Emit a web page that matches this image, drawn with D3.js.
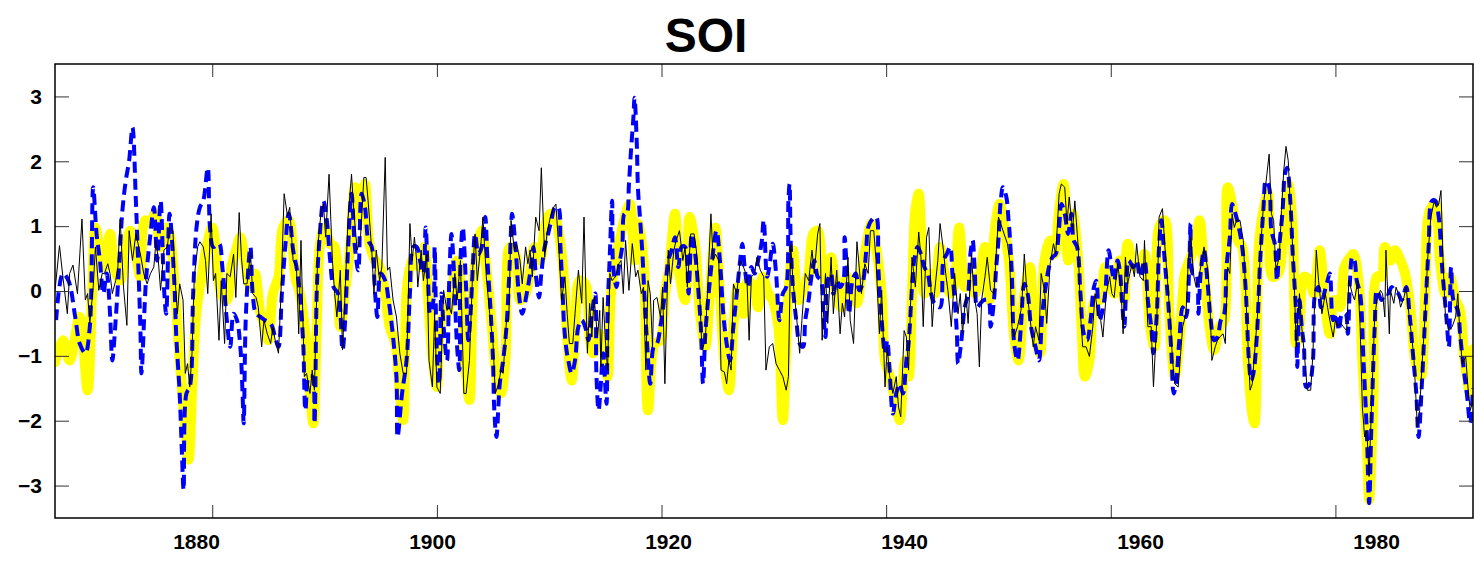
<!DOCTYPE html>
<html>
<head>
<meta charset="utf-8">
<script src="https://cdnjs.cloudflare.com/ajax/libs/d3/7.8.5/d3.min.js"></script>
<style>
  body { margin: 0; background: #fff; }
  svg text { font-family: "Liberation Sans", Arial, sans-serif; font-weight: bold; fill: #000; }
</style>
</head>
<body>
<div id="vis"></div>
<script>
'use strict';

// ---- data (year, SOI value) ----
var title = 'SOI';
var xTicks = [1880, 1900, 1920, 1940, 1960, 1980];
var yTicks = [-3, -2, -1, 0, 1, 2, 3];

// thick yellow series
var yellowSeries = [
  [1866.0,-1.1],[1866.7,-0.76],[1867.3,-1.07],[1868.2,-0.4],[1868.9,-1.53],[1869.3,-0.04],[1869.6,0.98],[1870.0,0.63],[1870.4,0.37],[1870.9,0.88],[1871.3,0.37],[1871.8,0.16],[1872.2,0.57],[1872.7,0.93],[1873.1,0.68],[1873.6,0.22],[1874.0,1.09],[1874.5,1.04],[1874.9,1.19],[1875.4,0.68],[1875.9,0.98],
  [1876.2,0.88],[1876.7,-0.04],[1877.1,-1.07],[1877.6,-2.1],[1877.9,-2.6],[1878.2,-1.58],[1878.6,-0.3],[1879.1,0.27],[1879.5,0.68],[1880.0,0.98],[1880.4,0.47],[1880.8,-0.04],[1881.3,-0.14],[1881.7,0.37],[1882.2,0.68],[1882.5,0.83],[1882.9,0.47],[1883.4,0.06],[1883.8,0.27],[1884.3,-0.35],[1884.7,-0.55],[1885.0,-0.76],[1885.4,-0.04],[1885.9,0.22],[1886.3,0.98],[1886.8,1.09],
  [1887.4,0.22],[1887.8,-0.04],[1888.3,-0.66],[1888.7,-1.58],[1889.0,-2.04],[1889.3,-0.55],[1889.6,0.73],[1890.0,0.98],[1890.5,0.73],[1890.9,0.68],[1891.4,-0.55],[1891.8,-0.04],[1892.3,0.73],[1892.7,1.6],[1893.2,1.14],[1893.6,1.65],[1894.0,0.73],[1894.5,0.47],[1894.9,0.37],[1895.4,-0.04],[1895.8,-0.55],[1896.3,-0.81],[1896.7,-1.58],[1897.0,-1.99],[1897.3,-0.04],[1897.6,0.35],
  [1898.0,0.52],[1898.5,0.37],[1898.9,0.68],[1899.2,-0.04],[1899.5,-0.81],[1900.0,-1.48],[1900.4,-0.45],[1900.9,-0.35],[1901.3,-0.04],[1901.8,0.47],[1902.2,-0.04],[1902.5,-1.07],[1902.9,-1.68],[1903.2,-0.04],[1903.5,0.57],[1904.0,0.93],[1904.4,0.37],[1904.9,-0.55],[1905.3,-1.32],[1905.7,-1.58],[1906.1,-1.07],[1906.5,0.68],[1907.0,0.57],[1907.4,-0.14],[1907.9,-0.04],[1908.3,0.3],
  [1908.7,0.68],[1909.2,0.47],[1909.6,0.98],[1910.1,1.19],[1910.5,1.14],[1911.0,0.73],[1911.3,0.22],[1911.6,-0.71],[1912.0,-1.38],[1912.3,-0.71],[1912.7,0.16],[1913.2,0.11],[1913.6,-0.71],[1913.9,-0.96],[1914.4,-0.66],[1914.8,-0.81],[1915.2,-1.32],[1915.5,-0.04],[1916.0,0.57],[1916.4,0.88],[1916.9,1.24],[1917.2,1.34],[1917.6,0.47],[1917.9,1.04],[1918.4,0.47],[1918.8,-1.84],
  [1919.4,-0.81],[1919.9,-0.76],[1920.3,-0.04],[1920.7,0.37],[1921.2,1.19],[1921.6,0.27],[1922.1,-0.14],[1922.5,1.14],[1923.0,0.68],[1923.4,-0.3],[1923.9,-0.86],[1924.3,-0.04],[1924.8,0.98],[1925.2,-0.04],[1925.6,-1.07],[1926.0,-1.53],[1926.4,-0.55],[1926.8,0.06],[1927.3,-0.35],[1927.7,0.16],[1928.2,0.06],[1928.6,-0.25],[1929.0,0.22],[1929.5,-0.04],
  [1929.9,-0.14],[1930.4,-0.55],[1930.8,-1.99],[1931.3,-0.04],[1931.7,0.63],[1932.2,-0.14],[1932.6,0.01],[1933.1,0.27],[1933.5,0.88],[1933.9,0.93],[1934.4,0.27],[1934.8,0.16],[1935.1,0.52],[1935.6,-0.04],[1936.0,-0.25],[1936.5,0.22],[1936.9,0.06],[1937.4,-0.19],[1937.8,0.27],[1938.2,0.68],[1938.7,1.04],[1939.1,0.68],[1939.6,-0.04],[1939.9,-1.07],[1940.3,-1.3],
  [1940.8,-1.68],[1941.2,-1.99],[1941.7,-1.07],[1942.0,-1.32],[1942.3,-0.04],[1942.6,1.24],[1942.9,1.5],[1943.1,0.98],[1943.4,-0.04],[1943.9,0.27],[1944.3,-0.04],[1944.8,0.68],[1945.2,0.27],[1945.7,-0.04],[1946.1,0.16],[1946.5,0.98],[1947.0,0.06],[1947.4,0.27],[1947.9,-0.04],[1948.3,0.22],[1948.8,0.68],[1949.2,-0.14],[1949.7,0.98],[1950.1,1.34],[1950.6,0.88],[1951.0,0.35],
  [1951.4,-0.71],[1951.8,-1.07],[1952.3,-0.04],[1952.8,0.37],[1953.2,-0.55],[1953.7,-0.96],[1954.1,0.47],[1954.6,0.78],[1955.0,0.57],[1955.4,1.24],[1955.8,1.65],[1956.2,0.47],[1956.6,1.19],[1957.1,0.47],[1957.4,-0.55],[1957.7,-1.32],[1958.1,-1.07],[1958.6,-0.14],[1959.0,-0.14],[1959.5,0.37],[1959.9,0.16],[1960.3,-0.04],[1960.8,0.47],[1961.2,-0.14],[1961.5,0.73],
  [1962.1,0.37],[1962.6,0.37],[1963.0,0.57],[1963.5,-0.55],[1963.9,-0.86],[1964.3,0.98],[1964.8,1.09],[1965.2,-0.3],[1965.7,-1.32],[1966.1,-0.81],[1966.6,0.27],[1967.0,0.47],[1967.5,0.68],[1967.9,1.09],[1968.3,0.37],[1968.8,-0.55],[1969.2,-0.91],[1969.7,-0.55],[1970.1,-0.45],[1970.4,1.6],[1970.9,1.24],[1971.3,0.78],[1971.7,0.68],[1972.2,-1.07],
  [1972.6,-1.9],[1972.8,-2.04],[1973.2,0.73],[1973.7,1.34],[1974.0,1.5],[1974.4,0.22],[1974.9,0.27],[1975.3,0.68],[1975.8,1.65],[1976.2,0.98],[1976.5,-0.81],[1976.8,-0.55],[1977.2,0.22],[1977.7,0.16],[1978.1,-0.04],[1978.6,0.63],[1979.0,-0.04],[1979.5,-0.66],[1979.9,-0.14],[1980.4,-0.25],[1980.8,0.37],[1981.3,0.52],
  [1981.6,0.57],[1982.1,0.06],[1982.4,-1.07],[1982.8,-2.35],[1983.0,-3.22],[1983.4,-1.58],[1983.7,0.22],[1984.1,0.22],[1984.4,0.68],[1984.9,0.47],[1985.3,0.63],[1985.8,0.47],[1986.2,0.27],[1986.7,-0.3],[1987.1,-1.07],[1987.6,-1.32],[1988.0,-0.04],[1988.4,1.24],[1988.9,1.34],[1989.3,0.47],[1989.8,-0.04],[1990.2,0.22],[1990.7,-0.14],[1991.1,-0.3],[1991.5,-1.07],[1992.0,-1.58],[1992.25,-0.9]
];

// blue dashed series
var blueSeries = [
  [1866.1,-0.45],[1866.7,0.27],[1867.2,0.16],[1867.8,-0.4],[1868.2,-0.81],[1868.7,-0.96],[1869.1,-0.55],[1869.4,1.6],[1869.7,0.88],[1870.0,0.47],[1870.3,-0.04],[1870.6,0.27],[1870.9,-0.35],[1871.1,-1.07],[1871.4,-0.45],[1871.7,0.37],[1872.0,1.24],[1872.3,1.7],[1872.6,2.01],[1872.9,2.52],[1873.2,1.39],[1873.4,0.47],[1873.6,-0.55],[1873.7,-1.27],[1874.1,0.16],[1874.5,0.88],[1874.8,1.29],[1875.1,0.47],[1875.4,1.39],[1875.7,0.06],[1875.9,-0.35],
  [1876.2,1.19],[1876.6,0.22],[1876.8,-0.71],[1877.1,-1.58],[1877.3,-2.5],[1877.45,-3.07],[1877.7,-1.58],[1878.0,-1.48],[1878.3,-0.04],[1878.6,0.98],[1878.9,1.29],[1879.2,1.39],[1879.6,1.9],[1879.8,0.98],[1880.1,0.68],[1880.6,0.73],[1880.9,0.37],[1881.3,-0.45],[1881.6,-0.86],[1881.9,-0.35],[1882.2,-0.45],[1882.5,-0.86],[1882.7,-1.58],[1882.8,-2.04],[1883.0,-0.35],[1883.4,0.68],[1883.6,-0.04],[1883.9,-0.35],[1884.3,-0.4],[1884.7,-0.45],[1885.2,-0.5],[1885.6,-0.71],[1885.9,-0.86],[1886.2,-0.04],[1886.5,0.68],[1886.8,1.19],
  [1886.9,1.14],[1887.2,0.63],[1887.5,0.37],[1887.8,-0.04],[1888.1,-0.81],[1888.3,-1.84],[1888.6,-1.32],[1888.9,-1.32],[1889.1,-2.04],[1889.3,-0.04],[1889.5,0.68],[1889.9,1.39],[1890.2,1.09],[1890.5,0.47],[1890.8,0.06],[1891.2,-0.04],[1891.6,-0.91],[1891.8,-0.55],[1892.1,0.68],[1892.4,1.5],[1892.7,0.68],[1893.0,0.32],[1893.3,1.5],[1893.6,1.29],[1893.9,0.78],[1894.2,0.68],[1894.5,-0.04],[1894.7,-0.4],[1895.0,0.27],[1895.4,0.16],[1895.7,-0.14],[1896.0,-0.55],[1896.4,-1.32],[1896.5,-2.25],[1896.9,-1.58],[1897.3,-1.07],[1897.6,-0.04],
  [1897.9,0.68],[1898.2,0.68],[1898.5,0.47],[1898.8,0.27],[1899.0,0.98],[1899.2,0.22],[1899.4,-0.35],[1899.7,-0.14],[1899.8,0.68],[1900.0,-0.96],[1900.2,-1.43],[1900.4,-0.04],[1900.6,-0.55],[1900.9,-1.07],[1901.1,0.16],[1901.3,0.88],[1901.5,0.37],[1901.8,-0.86],[1902.0,-1.22],[1902.1,0.47],[1902.3,0.98],[1902.6,0.06],[1902.8,-0.76],[1903.0,-0.35],[1903.2,0.37],[1903.4,0.88],[1903.7,0.57],[1904.0,0.68],[1904.3,1.14],[1904.5,0.47],[1904.8,-0.35],[1905.0,-1.07],[1905.1,-1.79],[1905.3,-2.25],[1905.6,-1.43],[1905.9,-1.07],[1906.2,-0.55],[1906.5,0.47],[1906.7,1.19],[1907.0,0.68],[1907.3,-0.04],[1907.6,-0.35],[1908.0,-0.04],[1908.3,0.27],
  [1908.6,0.68],[1908.8,0.27],[1909.1,-0.1],[1909.3,0.27],[1909.6,0.68],[1909.9,0.88],[1910.2,1.09],[1910.5,1.29],[1910.8,1.29],[1911.0,0.68],[1911.2,-0.04],[1911.3,-0.45],[1911.5,-0.86],[1911.7,-1.07],[1912.0,-1.27],[1912.3,-1.07],[1912.6,-0.55],[1912.9,-0.45],[1913.2,-0.55],[1913.5,-0.76],[1913.8,-0.35],[1914.1,-0.04],[1914.2,-1.27],[1914.4,-1.84],[1914.6,-1.43],[1914.8,-0.96],[1915.1,-1.74],[1915.2,-0.35],[1915.4,0.57],[1915.6,1.39],[1915.7,0.37],[1916.0,0.06],[1916.2,0.37],[1916.5,0.68],[1916.7,1.19],[1916.9,1.19],[1917.1,1.65],[1917.3,2.21],[1917.5,2.68],[1917.6,2.98],[1917.8,2.27],[1917.9,1.6],[1918.1,1.09],[1918.3,0.57],[1918.5,-0.14],[1918.7,-0.76],
  [1919.0,-1.43],[1919.3,-0.86],[1919.6,-0.81],[1919.9,-0.55],[1920.3,-0.04],[1920.6,0.47],[1920.9,0.63],[1921.2,0.83],[1921.5,0.37],[1921.8,0.68],[1922.1,0.68],[1922.4,-0.04],[1922.7,0.88],[1923.0,0.57],[1923.3,-0.04],[1923.5,-0.55],[1923.7,-1.43],[1923.9,-0.66],[1924.2,-0.04],[1924.5,0.47],[1924.9,0.93],[1925.2,0.47],[1925.5,-0.35],[1925.8,-0.81],[1926.1,-1.07],[1926.4,-0.55],[1926.7,-0.04],[1927.0,0.47],[1927.2,0.73],[1927.4,0.37],[1927.7,0.06],[1928.0,0.37],[1928.3,0.27],[1928.6,0.47],[1928.9,0.73],[1929.1,1.09],[1929.4,0.22],
  [1929.6,0.37],[1929.9,0.73],[1930.2,0.27],[1930.5,-0.45],[1930.8,-0.04],[1931.1,0.06],[1931.3,1.39],[1931.4,1.65],[1931.5,0.78],[1931.7,0.06],[1932.0,-0.45],[1932.3,-0.81],[1932.6,-0.86],[1932.8,-0.45],[1933.1,-0.14],[1933.3,0.16],[1933.6,0.47],[1933.9,0.22],[1934.2,0.16],[1934.4,-0.3],[1934.6,-0.71],[1934.8,0.16],[1935.1,0.27],[1935.3,-0.04],[1935.6,0.16],[1935.9,0.06],[1936.2,0.16],[1936.3,0.83],[1936.5,0.32],[1936.7,-0.35],[1937.0,0.16],[1937.3,0.27],[1937.6,0.01],[1937.9,0.11],[1938.2,0.57],[1938.4,0.98],[1938.7,1.09],[1939.1,1.14],[1939.3,0.37],[1939.6,-0.45],[1939.9,-0.96],[1940.1,-0.76],
  [1940.3,-1.2],[1940.6,-1.89],[1940.9,-1.58],[1941.2,-1.43],[1941.5,-1.58],[1941.8,-1.07],[1942.0,-0.81],[1942.3,0.06],[1942.5,0.47],[1942.8,0.68],[1943.1,0.57],[1943.4,0.37],[1943.7,0.27],[1944.0,-0.04],[1944.3,-0.19],[1944.8,-0.25],[1945.1,0.47],[1945.4,0.57],[1945.7,0.68],[1945.9,0.27],[1946.1,-0.14],[1946.3,-0.66],[1946.4,-1.12],[1946.7,-0.76],[1947.0,-0.25],[1947.3,-0.04],[1947.5,0.57],[1947.7,0.78],[1947.9,0.27],[1948.1,-0.25],[1948.4,-0.19],[1948.7,-0.14],[1949.1,-0.14],[1949.3,-0.55],[1949.6,-0.14],[1949.8,0.37],[1950.0,0.78],[1950.2,1.39],[1950.4,1.6],[1950.7,1.45],[1950.9,1.09],
  [1951.0,0.88],[1951.2,0.22],[1951.4,-0.81],[1951.7,-1.07],[1952.0,-0.55],[1952.3,0.11],[1952.6,-0.04],[1952.9,-0.55],[1953.3,-0.86],[1953.6,-1.07],[1953.9,-0.35],[1954.2,0.06],[1954.5,0.37],[1954.8,0.52],[1955.1,0.57],[1955.4,0.98],[1955.6,1.34],[1955.9,1.19],[1956.2,0.88],[1956.5,1.19],[1956.7,0.78],[1957.0,0.68],[1957.3,-0.04],[1957.6,-0.66],[1957.9,-0.76],[1958.2,-0.45],[1958.5,0.06],[1958.7,0.16],[1959.0,-0.45],[1959.2,-0.35],[1959.5,-0.04],[1959.8,0.63],[1960.1,0.32],[1960.3,0.16],[1960.6,0.47],[1960.8,0.32],[1961.0,-0.14],[1961.2,-0.55],[1961.4,0.16],[1961.6,0.47],
  [1962.0,0.37],[1962.3,0.47],[1962.6,0.22],[1963.0,0.47],[1963.3,-0.14],[1963.6,-0.55],[1963.8,-0.96],[1964.1,-0.35],[1964.3,0.68],[1964.5,1.09],[1964.8,0.47],[1965.1,-0.14],[1965.4,-0.96],[1965.6,-1.58],[1965.8,-1.43],[1966.1,-0.76],[1966.4,-0.25],[1966.7,-0.4],[1967.0,0.47],[1967.1,1.04],[1967.3,0.27],[1967.6,0.27],[1967.8,-0.35],[1968.0,0.27],[1968.3,0.63],[1968.6,0.16],[1968.9,-0.45],[1969.2,-0.76],[1969.5,-0.71],[1969.8,-0.45],[1970.1,-0.35],[1970.3,0.37],[1970.6,0.83],[1970.8,1.34],[1971.1,1.19],[1971.4,0.98],[1971.7,0.68],[1972.0,0.06],[1972.3,-1.07],
  [1972.5,-1.38],[1972.7,-1.27],[1973.0,-0.71],[1973.3,0.47],[1973.6,1.29],[1973.8,1.7],[1974.1,1.6],[1974.3,0.93],[1974.6,0.73],[1974.8,0.16],[1975.0,0.68],[1975.3,1.24],[1975.5,1.8],[1975.7,1.9],[1976.0,1.34],[1976.2,0.57],[1976.5,-0.35],[1976.6,-1.17],[1976.8,-0.14],[1977.0,-0.55],[1977.2,-0.86],[1977.4,-1.48],[1977.7,-1.43],[1978.0,-1.07],[1978.2,-0.04],[1978.5,0.06],[1978.7,-0.25],[1979.0,-0.04],[1979.3,0.16],[1979.5,0.27],[1979.8,-0.45],[1980.1,-0.35],[1980.3,-0.61],[1980.6,-0.35],[1980.9,-0.35],[1981.1,-0.66],[1981.3,0.16],[1981.5,0.52],
  [1981.7,0.47],[1981.9,0.16],[1982.2,-0.04],[1982.5,-1.07],[1982.8,-2.2],[1983.0,-3.27],[1983.2,-2.1],[1983.5,-0.55],[1983.7,0.01],[1984.1,-0.14],[1984.4,-0.04],[1984.7,-0.04],[1985.0,0.06],[1985.3,0.01],[1985.6,-0.04],[1985.9,-0.14],[1986.3,0.06],[1986.6,-0.35],[1986.9,-0.96],[1987.2,-1.58],[1987.4,-2.25],[1987.7,-1.43],[1988.0,-0.35],[1988.3,0.68],[1988.6,1.39],[1988.9,1.39],[1989.2,1.14],[1989.5,0.37],[1989.9,-0.45],[1990.1,-0.86],[1990.3,0.37],[1990.5,-0.14],[1990.9,-0.3],[1991.1,-0.66],[1991.4,-1.17],[1991.7,-1.58],[1992.0,-2.04],[1992.25,-1.5]
];

// thin black series
var blackSeries = [
  [1866.0,0.01],[1866.4,0.7],[1866.7,0.22],[1867.1,-0.35],[1867.3,0.27],[1867.6,0.4],[1868.0,-0.04],[1868.4,1.11],[1868.7,-0.14],[1868.9,-0.04],[1869.1,-0.5],[1869.4,0.06],[1869.6,0.68],[1869.9,0.01],[1870.2,0.27],[1870.4,0.27],[1870.7,0.42],[1870.9,0.27],[1871.1,-0.04],[1871.4,0.16],[1871.6,0.37],[1871.8,1.11],[1872.1,0.06],[1872.4,-0.53],[1872.6,0.93],[1872.9,0.47],[1873.2,0.88],[1873.6,0.57],[1873.9,0.27],[1874.2,0.11],[1874.5,0.27],[1874.8,0.37],[1875.0,0.78],[1875.2,0.47],[1875.4,0.01],[1875.7,0.63],[1876.0,0.68],
  [1876.2,0.98],[1876.5,0.93],[1876.7,0.16],[1876.9,-0.35],[1877.1,0.11],[1877.4,-0.14],[1877.6,-1.27],[1877.8,-1.12],[1878.0,-1.48],[1878.2,-0.96],[1878.4,0.22],[1878.7,0.68],[1878.9,0.76],[1879.2,0.68],[1879.4,0.47],[1879.6,-0.04],[1879.9,1.19],[1880.1,0.16],[1880.3,0.27],[1880.6,-0.76],[1880.8,0.16],[1881.1,-0.81],[1881.3,0.27],[1881.6,0.22],[1881.9,0.57],[1882.1,-0.1],[1882.4,1.21],[1882.6,0.52],[1882.8,0.11],[1883.1,0.11],[1883.4,0.6],[1883.6,-0.04],[1883.9,-0.1],[1884.1,-0.25],[1884.4,-0.86],[1884.6,-0.45],[1884.9,-0.66],[1885.2,-0.81],[1885.4,-0.55],[1885.6,-0.76],[1885.9,-0.96],[1886.1,-0.14],[1886.4,1.5],[1886.7,1.16],[1886.9,1.29],
  [1887.2,0.47],[1887.5,0.37],[1887.7,-0.66],[1887.9,0.78],[1888.2,-1.32],[1888.4,-1.27],[1888.7,-1.58],[1888.9,-1.22],[1889.1,-1.53],[1889.4,0.68],[1889.7,1.24],[1889.9,1.34],[1890.1,0.83],[1890.4,1.8],[1890.7,0.47],[1890.9,-0.04],[1891.1,-0.4],[1891.4,0.32],[1891.6,-0.91],[1891.8,-0.14],[1892.1,1.14],[1892.4,1.8],[1892.6,1.24],[1892.9,0.63],[1893.2,0.83],[1893.5,1.75],[1893.7,1.75],[1893.9,1.34],[1894.2,0.63],[1894.4,-0.04],[1894.6,0.63],[1894.9,0.16],[1895.1,0.37],[1895.4,2.06],[1895.6,0.32],[1895.8,0.37],[1896.1,-0.14],[1896.4,-0.4],[1896.7,-0.96],[1897.0,-1.27],[1897.3,-1.27],[1897.6,1.04],
  [1897.8,0.47],[1898.0,0.83],[1898.2,0.47],[1898.3,0.06],[1898.6,0.63],[1898.8,0.16],[1899.1,0.57],[1899.3,-1.07],[1899.6,-1.48],[1899.8,-0.35],[1900.0,-1.48],[1900.3,-1.58],[1900.6,0.01],[1900.9,-0.3],[1901.1,-0.25],[1901.3,-0.35],[1901.6,0.27],[1901.8,-0.14],[1902.1,0.47],[1902.4,-1.58],[1902.6,-1.58],[1902.9,-1.07],[1903.2,0.37],[1903.4,0.88],[1903.6,0.16],[1903.9,0.68],[1904.1,1.14],[1904.4,0.22],[1904.7,-0.35],[1905.0,-0.81],[1905.2,-1.58],[1905.5,-1.43],[1905.7,-1.22],[1905.9,-1.27],[1906.2,-0.45],[1906.4,-0.45],[1906.6,1.09],[1906.9,0.63],[1907.1,0.73],[1907.4,0.47],[1907.6,0.11],[1907.9,0.68],[1908.1,0.42],
  [1908.3,0.63],[1908.5,0.22],[1908.8,1.14],[1909.1,0.93],[1909.3,1.9],[1909.6,0.52],[1909.8,0.88],[1910.1,1.14],[1910.4,1.29],[1910.6,1.34],[1910.9,0.52],[1911.1,-0.14],[1911.4,0.22],[1911.6,-0.35],[1911.8,-0.81],[1912.1,-0.81],[1912.3,-0.35],[1912.6,0.32],[1912.9,-0.19],[1913.1,1.14],[1913.4,-0.96],[1913.6,-0.19],[1913.8,-0.71],[1914.0,-0.1],[1914.3,-0.71],[1914.5,-0.3],[1914.6,-1.17],[1914.8,-0.1],[1915.0,-0.76],[1915.2,-1.22],[1915.4,0.27],[1915.6,0.16],[1915.9,0.22],[1916.2,0.42],[1916.4,0.47],[1916.6,-0.04],[1916.8,0.78],[1917.1,0.01],[1917.4,0.73],[1917.7,0.22],[1917.9,0.32],[1918.2,-0.04],[1918.4,0.06],[1918.6,-1.22],[1918.8,0.16],
  [1919.0,-0.04],[1919.2,-0.86],[1919.3,-0.14],[1919.6,-0.1],[1919.9,-0.4],[1920.1,0.06],[1920.3,-1.43],[1920.6,0.63],[1920.8,0.11],[1921.1,0.63],[1921.3,0.78],[1921.6,0.93],[1921.9,0.47],[1922.1,0.68],[1922.3,0.06],[1922.6,0.88],[1922.9,0.88],[1923.1,0.63],[1923.4,-0.04],[1923.6,-0.91],[1923.9,-0.76],[1924.1,0.01],[1924.4,1.19],[1924.6,0.47],[1924.8,0.57],[1925.1,0.47],[1925.3,-1.22],[1925.6,-1.25],[1925.8,-1.43],[1926.0,-1.07],[1926.2,-1.22],[1926.4,0.11],[1926.7,-0.04],[1927.0,0.47],[1927.3,0.37],[1927.6,0.22],[1927.8,-0.76],[1928.0,0.22],[1928.3,0.27],[1928.5,0.52],[1928.8,0.32],[1929.1,0.22],[1929.3,-1.22],[1929.6,-0.86],
  [1929.9,-0.81],[1930.2,-1.12],[1930.5,-1.22],[1930.8,-1.32],[1931.1,-1.53],[1931.3,-1.32],[1931.5,0.73],[1931.7,0.16],[1932.0,-0.35],[1932.3,-0.96],[1932.5,-0.45],[1932.8,0.27],[1933.1,0.16],[1933.4,0.63],[1933.6,0.27],[1933.9,0.88],[1934.1,1.04],[1934.3,-0.76],[1934.6,0.27],[1934.8,-0.5],[1935.1,0.52],[1935.3,-0.35],[1935.6,0.32],[1935.9,-0.66],[1936.1,-0.19],[1936.3,-0.4],[1936.6,0.52],[1936.8,-0.45],[1937.1,-0.81],[1937.4,0.76],[1937.6,0.37],[1937.8,-0.04],[1938.1,0.42],[1938.4,0.27],[1938.6,0.93],[1938.9,0.93],[1939.1,0.47],[1939.4,-0.66],[1939.6,0.01],[1939.9,-1.48],[1940.1,-0.86],
  [1940.3,-1.3],[1940.6,-1.58],[1940.9,-1.32],[1941.1,-1.79],[1941.3,-1.94],[1941.6,-0.61],[1941.8,-0.71],[1942.0,-1.22],[1942.3,0.52],[1942.6,0.06],[1942.9,0.91],[1943.1,0.52],[1943.3,-0.55],[1943.6,0.83],[1943.8,0.98],[1944.1,-0.55],[1944.3,-0.04],[1944.6,0.47],[1944.8,1.04],[1945.1,0.63],[1945.3,0.27],[1945.5,0.01],[1945.8,-0.55],[1946.1,0.27],[1946.4,-0.35],[1946.6,-0.04],[1946.8,-0.66],[1947.1,-0.04],[1947.3,-0.5],[1947.6,0.57],[1947.8,-0.04],[1948.1,-0.35],[1948.3,-1.17],[1948.5,-0.14],[1948.8,0.22],[1949.0,0.52],[1949.3,0.01],[1949.6,-0.04],[1949.8,0.57],[1950.0,1.14],[1950.2,1.04],[1950.5,0.88],[1950.8,0.73],
  [1951.0,0.47],[1951.2,-0.55],[1951.4,-0.71],[1951.7,-0.55],[1952.0,-0.3],[1952.1,-0.14],[1952.3,0.57],[1952.5,0.06],[1952.8,-0.4],[1953.1,-0.86],[1953.3,-0.55],[1953.6,-0.76],[1953.8,0.27],[1954.1,0.01],[1954.3,-0.5],[1954.6,0.42],[1954.9,0.73],[1955.1,0.57],[1955.4,1.5],[1955.6,1.65],[1955.9,1.6],[1956.1,1.04],[1956.3,1.45],[1956.6,0.93],[1956.8,1.39],[1957.1,0.68],[1957.3,-0.35],[1957.5,-0.86],[1957.8,-0.86],[1958.1,-1.01],[1958.4,-0.55],[1958.6,-0.04],[1958.9,-0.4],[1959.1,-0.45],[1959.3,-0.71],[1959.6,-0.04],[1959.9,0.22],[1960.1,-0.04],[1960.3,-0.1],[1960.6,0.42],[1960.9,0.06],[1961.1,-0.66],[1961.3,0.52],[1961.5,0.11],
  [1961.7,0.27],[1961.9,0.42],[1962.1,0.22],[1962.3,0.73],[1962.6,0.22],[1962.9,0.16],[1963.0,0.78],[1963.3,-0.55],[1963.6,-0.55],[1963.8,-1.48],[1964.1,-0.45],[1964.3,1.14],[1964.6,1.27],[1964.8,0.73],[1965.0,0.27],[1965.3,-0.45],[1965.5,-1.07],[1965.7,-1.43],[1966.0,-1.48],[1966.2,-1.01],[1966.4,-0.55],[1966.7,-0.35],[1966.9,0.47],[1967.1,0.83],[1967.4,0.22],[1967.6,0.06],[1967.8,0.16],[1968.1,0.47],[1968.3,0.68],[1968.6,0.37],[1968.8,-0.04],[1969.0,-1.07],[1969.3,-0.86],[1969.5,-0.76],[1969.7,-0.71],[1970.0,-0.66],[1970.2,-0.81],[1970.4,0.37],[1970.6,0.27],[1970.8,1.19],[1971.0,0.98],[1971.2,1.09],[1971.5,1.09],[1971.8,0.78],[1972.1,-0.35],
  [1972.4,-1.53],[1972.6,-1.43],[1972.8,-0.96],[1973.1,-0.3],[1973.3,0.57],[1973.6,1.34],[1973.9,1.8],[1974.1,2.11],[1974.3,1.19],[1974.5,1.09],[1974.7,0.32],[1975.0,0.52],[1975.2,1.24],[1975.4,1.85],[1975.6,2.23],[1975.8,2.01],[1976.0,1.24],[1976.3,0.37],[1976.5,-0.86],[1976.8,-0.04],[1977.0,-0.55],[1977.2,-0.91],[1977.5,-1.53],[1977.8,-1.53],[1978.0,-0.96],[1978.3,0.63],[1978.5,0.16],[1978.8,-0.35],[1979.1,-0.04],[1979.3,-0.25],[1979.5,-0.45],[1979.8,-0.71],[1980.0,-0.45],[1980.2,-0.55],[1980.5,-0.5],[1980.7,-0.55],[1981.0,-0.61],[1981.2,0.16],[1981.5,-0.04],[1981.7,-0.14],[1982.0,0.16],[1982.2,-0.55],[1982.4,-1.79],[1982.6,-2.25],[1982.8,-2.15],
  [1983.0,-2.86],[1983.2,-1.84],[1983.5,-0.4],[1983.7,-0.14],[1984.0,0.01],[1984.2,-0.04],[1984.4,-0.4],[1984.5,0.63],[1984.8,-0.66],[1984.9,0.01],[1985.2,-0.19],[1985.4,0.06],[1985.6,-0.04],[1985.8,-0.25],[1986.1,-0.1],[1986.3,0.06],[1986.6,-0.45],[1986.8,-0.71],[1987.0,-1.07],[1987.3,-2.1],[1987.5,-1.84],[1987.7,-1.17],[1988.0,-0.35],[1988.2,0.47],[1988.5,1.14],[1988.8,1.39],[1989.0,1.29],[1989.2,1.34],[1989.4,1.55],[1989.6,0.37],[1989.8,-0.4],[1990.1,-0.61],[1990.4,-0.55],[1990.7,-0.4],[1990.9,-0.04],[1991.1,-0.71],[1991.3,-1.12],[1991.6,-1.01],[1991.8,-1.48],[1992.0,-1.84],[1992.25,-1.7]
];

// ---- layout ----
var width = 1474, height = 562;
var plotLeft = 55, plotRight = 1473, plotTop = 64, plotBottom = 518;

var svg = d3.select('#vis').append('svg')
    .attr('width', width)
    .attr('height', height);

var x = d3.scaleLinear().domain([1866, 1992.25]).range([plotLeft, plotRight]);
var y = d3.scaleLinear().domain([-3.5, 3.5]).range([plotBottom, plotTop]);
// tick labels in the source figure sit on a slightly wider spacing than the ticks
var xLabel = d3.scaleLinear().domain([1880, 1980]).range([196, 1376]);

svg.append('defs').append('clipPath').attr('id', 'plot-clip')
    .append('rect')
    .attr('x', plotLeft).attr('y', plotTop)
    .attr('width', plotRight - plotLeft).attr('height', plotBottom - plotTop);

var lines = svg.append('g').attr('clip-path', 'url(#plot-clip)');

var smoothLine = d3.line()
    .x(function (d) { return x(d[0]); })
    .y(function (d) { return y(d[1]); })
    .curve(d3.curveCatmullRom.alpha(0.5));

var rawLine = d3.line()
    .x(function (d) { return x(d[0]); })
    .y(function (d) { return y(d[1]); });

lines.append('path')
    .datum(yellowSeries)
    .attr('d', smoothLine)
    .attr('fill', 'none')
    .attr('stroke', '#ffff00')
    .attr('stroke-width', 10)
    .attr('stroke-linejoin', 'round')
    .attr('stroke-linecap', 'round');

lines.append('path')
    .datum(blueSeries)
    .attr('d', smoothLine)
    .attr('fill', 'none')
    .attr('stroke', '#0000ff')
    .attr('stroke-width', 4)
    .attr('stroke-dasharray', '11,6');

lines.append('path')
    .datum(blackSeries)
    .attr('d', rawLine)
    .attr('fill', 'none')
    .attr('stroke', '#000')
    .attr('stroke-width', 1);

// ---- axes: ticks point inward on all four sides ----
function styleTicks(g) {
    g.select('.domain').remove();
    g.selectAll('.tick line').attr('stroke', '#333').attr('stroke-width', 1);
}

function styleLabels(g) {
    g.selectAll('text')
        .attr('font-size', 21)
        .style('font-family', '"Liberation Sans", Arial, sans-serif')
        .style('font-weight', 'bold')
        .attr('fill', '#000');
}

svg.append('g')
    .attr('transform', 'translate(0,' + plotBottom + ')')
    .call(d3.axisBottom(x).tickValues(xTicks).tickSize(-13).tickFormat(''))
    .call(styleTicks);

svg.append('g')
    .attr('transform', 'translate(0,' + plotTop + ')')
    .call(d3.axisTop(x).tickValues(xTicks).tickSize(-13).tickFormat(''))
    .call(styleTicks);

svg.append('g')
    .attr('transform', 'translate(' + plotLeft + ',0)')
    .call(d3.axisLeft(y).tickValues(yTicks).tickSize(-14).tickPadding(13).tickFormat(d3.format('d')))
    .call(styleTicks)
    .call(styleLabels);

svg.append('g')
    .attr('transform', 'translate(' + plotRight + ',0)')
    .call(d3.axisRight(y).tickValues(yTicks).tickSize(-14).tickFormat(''))
    .call(styleTicks);

// x tick labels
svg.append('g')
    .attr('transform', 'translate(0,' + (plotBottom + 16) + ')')
    .call(d3.axisBottom(xLabel).tickValues(xTicks).tickSize(0).tickPadding(0).tickFormat(d3.format('d')))
    .call(function (g) { g.select('.domain').remove(); })
    .call(styleLabels);

// frame
svg.append('rect')
    .attr('x', plotLeft).attr('y', plotTop)
    .attr('width', plotRight - plotLeft).attr('height', plotBottom - plotTop)
    .attr('fill', 'none')
    .attr('stroke', '#000')
    .attr('stroke-width', 1.5);

// title
svg.append('text')
    .attr('x', 706)
    .attr('y', 52)
    .attr('text-anchor', 'middle')
    .attr('font-size', 48)
    .text(title);
</script>
</body>
</html>
